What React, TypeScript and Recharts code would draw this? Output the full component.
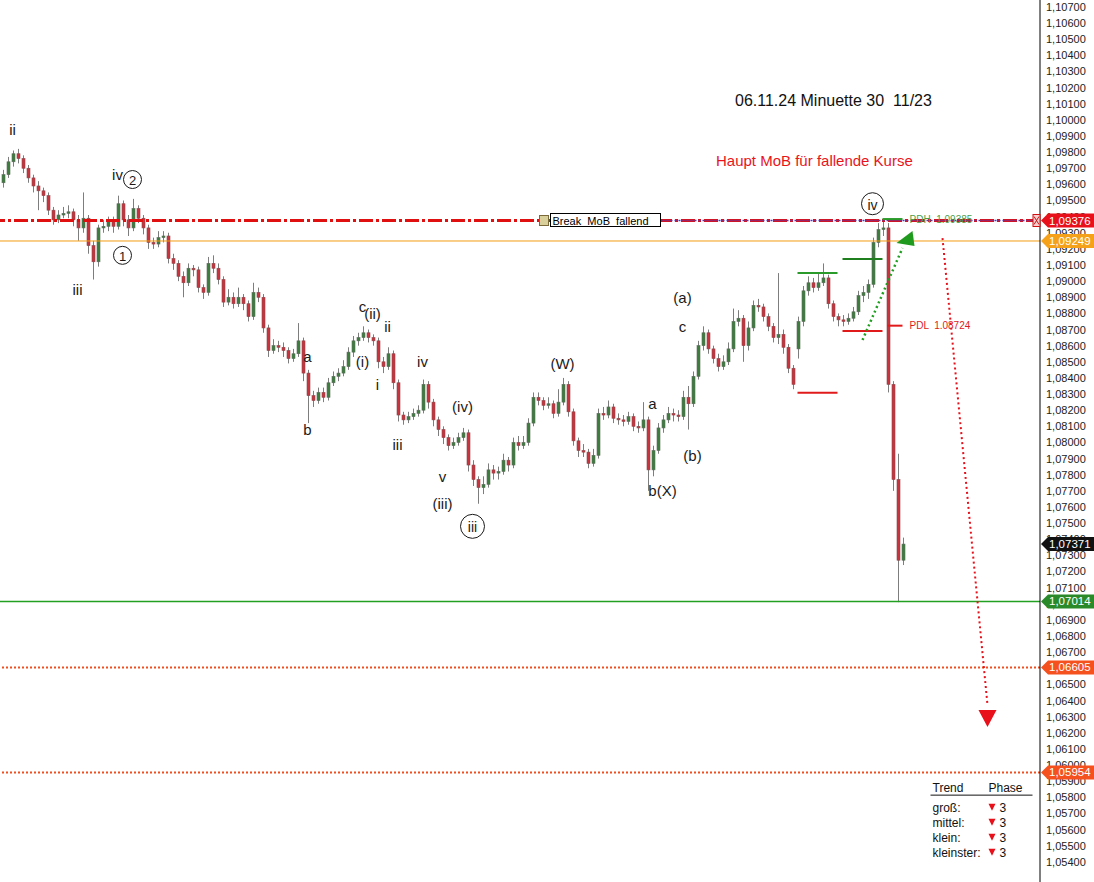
import { Bar, ComposedChart, ReferenceDot, ReferenceLine, XAxis, YAxis } from "recharts";

// EUR/USD 30 min candles
const opens = [
  1.0961, 1.0966, 1.0974, 1.0979, 1.0976, 1.0970, 1.0964, 1.0959, 1.0956, 1.0953,
  1.0944, 1.0938, 1.0941, 1.0942, 1.0943, 1.0938, 1.0933, 1.0939, 1.0922, 1.0912,
  1.0933, 1.0934, 1.0937, 1.0934, 1.0948, 1.0938, 1.0933, 1.0945, 1.0939, 1.0933,
  1.0924, 1.0923, 1.0927, 1.0928, 1.0914, 1.0911, 1.0903, 1.0899, 1.0908, 1.0907,
  1.0896, 1.0893, 1.0911, 1.0908, 1.0901, 1.0887, 1.0890, 1.0886, 1.0890, 1.0886,
  1.0878, 1.0893, 1.0890, 1.0871, 1.0857, 1.0860, 1.0859, 1.0857, 1.0852, 1.0855,
  1.0863, 1.0843, 1.0829, 1.0826, 1.0831, 1.0828, 1.0837, 1.0841, 1.0843, 1.0847,
  1.0856, 1.0863, 1.0865, 1.0868, 1.0865, 1.0863, 1.0850, 1.0847, 1.0855, 1.0837,
  1.0817, 1.0814, 1.0816, 1.0818, 1.0820, 1.0836, 1.0825, 1.0814, 1.0808, 1.0803,
  1.0798, 1.0800, 1.0803, 1.0806, 1.0786, 1.0777, 1.0772, 1.0774, 1.0783, 1.0781,
  1.0782, 1.0789, 1.0786, 1.0800, 1.0798, 1.0800, 1.0812, 1.0828, 1.0826, 1.0823,
  1.0824, 1.0818, 1.0825, 1.0836, 1.0819, 1.0801, 1.0795, 1.0794, 1.0787, 1.0792,
  1.0818, 1.0817, 1.0822, 1.0815, 1.0814, 1.0813, 1.0816, 1.0810, 1.0809, 1.0814,
  1.0783, 1.0795, 1.0809, 1.0814, 1.0818, 1.0817, 1.0816, 1.0828, 1.0824, 1.0841,
  1.0860, 1.0868, 1.0858, 1.0852, 1.0847, 1.0850, 1.0858, 1.0875, 1.0877, 1.0860,
  1.0871, 1.0885, 1.0884, 1.0878, 1.0872, 1.0865, 1.0867, 1.0859, 1.0846, 1.0858,
  1.0875, 1.0894, 1.0899, 1.0896, 1.0899, 1.0902, 1.0886, 1.0878, 1.0876, 1.0875,
  1.0877, 1.0881, 1.0891, 1.0893, 1.0898, 1.0924, 1.0932, 1.0933, 1.0836, 1.0777,
  1.0727,
];
const highs = [
  1.0969, 1.0977, 1.0981, 1.0982, 1.0978, 1.0972, 1.0966, 1.0962, 1.0958, 1.0955,
  1.0946, 1.0944, 1.0946, 1.0947, 1.0945, 1.0941, 1.0955, 1.0941, 1.0925, 1.0935,
  1.0938, 1.0940, 1.0940, 1.0953, 1.0950, 1.0941, 1.0951, 1.0947, 1.0941, 1.0935,
  1.0927, 1.0931, 1.0931, 1.0930, 1.0917, 1.0913, 1.0906, 1.0911, 1.0910, 1.0909,
  1.0898, 1.0915, 1.0916, 1.0911, 1.0903, 1.0895, 1.0893, 1.0896, 1.0892, 1.0888,
  1.0899, 1.0896, 1.0892, 1.0873, 1.0864, 1.0863, 1.0862, 1.0859, 1.0858, 1.0874,
  1.0865, 1.0845, 1.0832, 1.0834, 1.0834, 1.0840, 1.0844, 1.0846, 1.0851, 1.0859,
  1.0866, 1.0868, 1.0872, 1.0870, 1.0867, 1.0865, 1.0853, 1.0859, 1.0857, 1.0839,
  1.0819, 1.0819, 1.0821, 1.0823, 1.0839, 1.0838, 1.0827, 1.0816, 1.0810, 1.0805,
  1.0803, 1.0806, 1.0809, 1.0808, 1.0789, 1.0779, 1.0779, 1.0787, 1.0786, 1.0785,
  1.0793, 1.0791, 1.0803, 1.0804, 1.0804, 1.0815, 1.0831, 1.0831, 1.0828, 1.0828,
  1.0826, 1.0833, 1.0840, 1.0838, 1.0821, 1.0803, 1.0799, 1.0796, 1.0796, 1.0821,
  1.0822, 1.0826, 1.0824, 1.0818, 1.0817, 1.0819, 1.0818, 1.0813, 1.0825, 1.0816,
  1.0798, 1.0812, 1.0817, 1.0822, 1.0821, 1.0820, 1.0832, 1.0835, 1.0844, 1.0863,
  1.0872, 1.0870, 1.0860, 1.0855, 1.0854, 1.0862, 1.0883, 1.0882, 1.0879, 1.0875,
  1.0888, 1.0889, 1.0886, 1.0880, 1.0874, 1.0905, 1.0870, 1.0861, 1.0848, 1.0878,
  1.0897, 1.0903, 1.0902, 1.0905, 1.0911, 1.0904, 1.0888, 1.0880, 1.0879, 1.0880,
  1.0884, 1.0894, 1.0897, 1.0901, 1.0927, 1.0936, 1.0938, 1.0936, 1.0838, 1.0793,
  1.0741,
];
const lows = [
  1.0958, 1.0964, 1.0971, 1.0973, 1.0967, 1.0961, 1.0955, 1.0944, 1.0949, 1.0941,
  1.0935, 1.0936, 1.0939, 1.0939, 1.0934, 1.0925, 1.0930, 1.0917, 1.0901, 1.0909,
  1.0930, 1.0931, 1.0930, 1.0932, 1.0934, 1.0928, 1.0931, 1.0936, 1.0929, 1.0920,
  1.0920, 1.0921, 1.0924, 1.0911, 1.0907, 1.0900, 1.0890, 1.0897, 1.0903, 1.0893,
  1.0889, 1.0891, 1.0905, 1.0898, 1.0884, 1.0885, 1.0883, 1.0884, 1.0882, 1.0875,
  1.0876, 1.0887, 1.0868, 1.0853, 1.0855, 1.0856, 1.0853, 1.0849, 1.0850, 1.0853,
  1.0838, 1.0812, 1.0822, 1.0824, 1.0825, 1.0826, 1.0835, 1.0838, 1.0841, 1.0845,
  1.0853, 1.0860, 1.0863, 1.0862, 1.0860, 1.0846, 1.0843, 1.0845, 1.0833, 1.0813,
  1.0811, 1.0812, 1.0814, 1.0816, 1.0818, 1.0821, 1.0810, 1.0804, 1.0799, 1.0795,
  1.0796, 1.0798, 1.0801, 1.0782, 1.0773, 1.0762, 1.0768, 1.0772, 1.0777, 1.0777,
  1.0780, 1.0782, 1.0784, 1.0795, 1.0796, 1.0798, 1.0810, 1.0823, 1.0820, 1.0821,
  1.0815, 1.0816, 1.0823, 1.0816, 1.0798, 1.0791, 1.0791, 1.0784, 1.0785, 1.0790,
  1.0814, 1.0815, 1.0812, 1.0811, 1.0810, 1.0811, 1.0807, 1.0806, 1.0807, 1.0770,
  1.0779, 1.0793, 1.0806, 1.0812, 1.0813, 1.0813, 1.0814, 1.0808, 1.0822, 1.0839,
  1.0857, 1.0855, 1.0849, 1.0844, 1.0845, 1.0848, 1.0856, 1.0872, 1.0850, 1.0857,
  1.0869, 1.0881, 1.0875, 1.0869, 1.0862, 1.0861, 1.0855, 1.0843, 1.0833, 1.0852,
  1.0872, 1.0891, 1.0893, 1.0894, 1.0897, 1.0883, 1.0875, 1.0872, 1.0872, 1.0873,
  1.0875, 1.0879, 1.0887, 1.0889, 1.0896, 1.0921, 1.0928, 1.0831, 1.0770, 1.0701,
  1.0724,
];
const closes = [
  1.0966, 1.0974, 1.0979, 1.0976, 1.0970, 1.0964, 1.0959, 1.0956, 1.0953, 1.0944,
  1.0938, 1.0941, 1.0942, 1.0943, 1.0938, 1.0933, 1.0939, 1.0922, 1.0912, 1.0933,
  1.0934, 1.0937, 1.0934, 1.0948, 1.0938, 1.0933, 1.0945, 1.0939, 1.0933, 1.0924,
  1.0923, 1.0927, 1.0928, 1.0914, 1.0911, 1.0903, 1.0899, 1.0908, 1.0907, 1.0896,
  1.0893, 1.0911, 1.0908, 1.0901, 1.0887, 1.0890, 1.0886, 1.0890, 1.0886, 1.0878,
  1.0893, 1.0890, 1.0871, 1.0857, 1.0860, 1.0859, 1.0857, 1.0852, 1.0855, 1.0863,
  1.0843, 1.0829, 1.0826, 1.0831, 1.0828, 1.0837, 1.0841, 1.0843, 1.0847, 1.0856,
  1.0863, 1.0865, 1.0868, 1.0865, 1.0863, 1.0850, 1.0847, 1.0855, 1.0837, 1.0817,
  1.0814, 1.0816, 1.0818, 1.0820, 1.0836, 1.0825, 1.0814, 1.0808, 1.0803, 1.0798,
  1.0800, 1.0803, 1.0806, 1.0786, 1.0777, 1.0772, 1.0774, 1.0783, 1.0781, 1.0782,
  1.0789, 1.0786, 1.0800, 1.0798, 1.0800, 1.0812, 1.0828, 1.0826, 1.0823, 1.0824,
  1.0818, 1.0825, 1.0836, 1.0819, 1.0801, 1.0795, 1.0794, 1.0787, 1.0792, 1.0818,
  1.0817, 1.0822, 1.0815, 1.0814, 1.0813, 1.0816, 1.0810, 1.0809, 1.0814, 1.0783,
  1.0795, 1.0809, 1.0814, 1.0818, 1.0817, 1.0816, 1.0828, 1.0824, 1.0841, 1.0860,
  1.0868, 1.0858, 1.0852, 1.0847, 1.0850, 1.0858, 1.0875, 1.0877, 1.0860, 1.0871,
  1.0885, 1.0884, 1.0878, 1.0872, 1.0865, 1.0867, 1.0859, 1.0846, 1.0836, 1.0875,
  1.0894, 1.0899, 1.0896, 1.0899, 1.0902, 1.0886, 1.0878, 1.0876, 1.0875, 1.0877,
  1.0881, 1.0891, 1.0893, 1.0898, 1.0924, 1.0932, 1.0933, 1.0836, 1.0777, 1.0727,
  1.0737,
];

// empty slots to the right of the last candle
const SLOTS = 208;

const priceTicks = [
  1.054, 1.055, 1.056, 1.057, 1.058, 1.059, 1.06, 1.061, 1.062, 1.063,
  1.064, 1.065, 1.066, 1.067, 1.068, 1.069, 1.07, 1.071, 1.072, 1.073,
  1.074, 1.075, 1.076, 1.077, 1.078, 1.079, 1.08, 1.081, 1.082, 1.083,
  1.084, 1.085, 1.086, 1.087, 1.088, 1.089, 1.09, 1.091, 1.092, 1.093,
  1.094, 1.095, 1.096, 1.097, 1.098, 1.099, 1.1, 1.101, 1.102, 1.103,
  1.104, 1.105, 1.106, 1.107,
];

// price tags on the right scale
const tagValues = [1.09376, 1.09249, 1.07371, 1.07014, 1.06605, 1.05954];
const tagColors = ["#e8101a", "#f5a21a", "#111111", "#2a8a2a", "#f4511e", "#f4511e"];

const waveLabels = [
  { text: "ii", i: 2, p: 1.0994 },
  { text: "iii", i: 15, p: 1.0895 },
  { text: "iv", i: 23, p: 1.0966 },
  { text: "a", i: 61, p: 1.0853 },
  { text: "b", i: 61, p: 1.0808 },
  { text: "c", i: 72, p: 1.0884 },
  { text: "(ii)", i: 74, p: 1.088 },
  { text: "ii", i: 77, p: 1.0872 },
  { text: "(i)", i: 72, p: 1.085 },
  { text: "i", i: 75, p: 1.0836 },
  { text: "iv", i: 84, p: 1.085 },
  { text: "iii", i: 79, p: 1.0799 },
  { text: "(iv)", i: 92, p: 1.0822 },
  { text: "v", i: 88, p: 1.0779 },
  { text: "(iii)", i: 88, p: 1.0762 },
  { text: "(W)", i: 112, p: 1.0849 },
  { text: "a", i: 130, p: 1.0824 },
  { text: "b(X)", i: 132, p: 1.077 },
  { text: "(b)", i: 138, p: 1.0792 },
  { text: "c", i: 136, p: 1.0872 },
  { text: "(a)", i: 136, p: 1.089 },
];

const circledLabels = [
  { text: "2", i: 26, p: 1.0963, r: 9 },
  { text: "1", i: 24, p: 1.0916, r: 9 },
  { text: "iii", i: 94, p: 1.0748, r: 12 },
  { text: "iv", i: 174, p: 1.0948, r: 11 },
];

const trendRows = ["groß:", "mittel:", "klein:", "kleinster:"];
const trendPhases = [3, 3, 3, 3];

const FONT = "'Liberation Sans', Arial, sans-serif";

const data = Array.from({ length: SLOTS }, (_, i) =>
  i < closes.length ? { i, o: opens[i], h: highs[i], l: lows[i], c: closes[i] } : { i }
);

const fmt = (v: number) => v.toFixed(5).replace(".", ",");

const Candle = (props: any) => {
  const { x, y, width, height, payload } = props;
  if (!payload || payload.h === undefined) return null;
  const top = Math.min(y, y + height);
  const bottom = Math.max(y, y + height);
  const span = payload.h - payload.l || 1e-9;
  const toY = (p: number) => top + ((payload.h - p) / span) * (bottom - top);
  const cx = Math.round(x + width / 2) + 0.5;
  const up = payload.c >= payload.o;
  const yo = toY(payload.o);
  const yc = toY(payload.c);
  return (
    <g>
      <line x1={cx} x2={cx} y1={top} y2={bottom} stroke="#7d7d7d" strokeWidth={1} />
      <rect
        x={cx - 1.5}
        y={Math.min(yo, yc)}
        width={3}
        height={Math.max(1, Math.abs(yc - yo))}
        fill={up ? "#3e7c3e" : "#c8333d"}
        stroke={up ? "#5d6b5d" : "#8c4a4e"}
        strokeWidth={0.6}
      />
    </g>
  );
};

// tag values come last in the tick list, so they are painted over the plain price labels
const AxisTick = (props: any) => {
  const { x, y, payload } = props;
  const k = tagValues.indexOf(payload.value);
  if (k < 0) {
    return (
      <text x={x} y={y + 4} fontSize={11} fill="#222" fontFamily={FONT}>
        {fmt(payload.value)}
      </text>
    );
  }
  const X = x - 6;
  const Y = y;
  return (
    <g>
      {k === 0 && (
        <g>
          <rect x={X - 7} y={Y - 6} width={7} height={12} fill="#f6d0d0" stroke="#d01010" />
          <line x1={X - 6} y1={Y - 4} x2={X - 1} y2={Y + 4} stroke="#d01010" />
          <line x1={X - 1} y1={Y - 4} x2={X - 6} y2={Y + 4} stroke="#d01010" />
        </g>
      )}
      <polygon
        points={`${X + 1},${Y} ${X + 8},${Y - 7} ${X + 54},${Y - 7} ${X + 54},${Y + 7} ${X + 8},${Y + 7}`}
        fill={tagColors[k]}
      />
      <text x={X + 9} y={Y + 4} fill="#fff" fontSize={11.5} fontFamily={FONT}>
        {fmt(payload.value)}
      </text>
    </g>
  );
};

const WaveText = (text: string) => (props: any) => (
  <text
    x={props.cx}
    y={props.cy}
    textAnchor="middle"
    dominantBaseline="central"
    fontSize={15}
    fontFamily={FONT}
    fill="#1a1a1a"
  >
    {text}
  </text>
);

const CircledText = (text: string, r: number) => (props: any) => (
  <g>
    <circle cx={props.cx} cy={props.cy} r={r} fill="none" stroke="#1a1a1a" strokeWidth={1} />
    <text
      x={props.cx}
      y={props.cy + 1}
      textAnchor="middle"
      dominantBaseline="central"
      fontSize={r > 10 ? 14 : 13}
      fontFamily={FONT}
      fill="#1a1a1a"
    >
      {text}
    </text>
  </g>
);

const FreeText = (text: string, color: string, size: number, dx = 0) => (props: any) => (
  <text
    x={props.cx + dx}
    y={props.cy}
    dominantBaseline="central"
    fontSize={size}
    fontFamily={FONT}
    fill={color}
    style={{ whiteSpace: "pre" }}
  >
    {text}
  </text>
);

const BreakBox = (props: any) => {
  const { cx, cy } = props;
  return (
    <g>
      <rect x={cx - 3} y={cy - 5} width={9} height={10} fill="#d9cf9a" stroke="#7a6a3a" />
      <rect x={cx + 8} y={cy - 7} width={110} height={13} fill="#fff" stroke="#000" />
      <text x={cx + 10} y={cy} dominantBaseline="central" fontSize={11} fontFamily={FONT} fill="#000">
        Break_MoB_fallend_
      </text>
    </g>
  );
};

const GreenHead = (props: any) => {
  const { cx, cy } = props;
  return <polygon points={`${cx},${cy} ${cx - 16},${cy + 12} ${cx + 2},${cy + 15}`} fill="#1f9a1f" />;
};

const RedHead = (props: any) => {
  const { cx, cy } = props;
  return <polygon points={`${cx},${cy} ${cx - 9},${cy - 17} ${cx + 9},${cy - 17}`} fill="#e8101a" />;
};

const TrendTable = (props: any) => {
  const { cx, cy } = props;
  return (
    <g fontFamily={FONT} fontSize={12} fill="#111">
      <text x={cx} y={cy + 4}>Trend</text>
      <text x={cx + 56} y={cy + 4}>Phase</text>
      <line x1={cx - 2} x2={cx + 100} y1={cy + 7.5} y2={cy + 7.5} stroke="#111" />
      {trendRows.map((row, k) => (
        <g key={row}>
          <text x={cx} y={cy + 24 + k * 15}>{row}</text>
          <polygon
            points={`${cx + 56},${cy + 16 + k * 15} ${cx + 63},${cy + 16 + k * 15} ${cx + 59.5},${cy + 23 + k * 15}`}
            fill="#e8101a"
          />
          <text x={cx + 67} y={cy + 24 + k * 15}>{trendPhases[k]}</text>
        </g>
      ))}
    </g>
  );
};

const App = () => {
  return (
    <div style={{ position: "absolute", left: 0, top: 0, background: "#fff" }}>
      <ComposedChart width={1094} height={882} data={data} margin={{ top: 0, right: 0, bottom: 0, left: 0 }}>
        <XAxis dataKey="i" hide />
        <YAxis
          orientation="right"
          width={54}
          domain={[1.05275, 1.10743]}
          allowDataOverflow
          ticks={[...priceTicks, ...tagValues]}
          interval={0}
          tickLine={false}
          tickSize={3}
          tickMargin={3}
          axisLine={{ stroke: "#000" }}
          tick={AxisTick}
        />

        <ReferenceDot x={108} y={1.09376} r={0} shape={BreakBox} />

        <Bar dataKey={(d: any) => (d.h === undefined ? undefined : [d.l, d.h])} shape={Candle} isAnimationActive={false} />

        <ReferenceLine y={1.09249} stroke="#f39c12" strokeWidth={1} />
        <ReferenceLine y={1.09376} stroke="#e01010" strokeWidth={3} strokeDasharray="14 3 3 3" />
        <ReferenceLine
          segment={[{ x: 108, y: 1.09376 }, { x: 206, y: 1.09376 }]}
          stroke="#4a3cc8"
          strokeWidth={1.5}
          strokeDasharray="2 2"
        />
        <ReferenceLine y={1.07014} stroke="#22a022" strokeWidth={1.5} />
        <ReferenceLine y={1.06605} stroke="#f05020" strokeWidth={2} strokeDasharray="2 2" />
        <ReferenceLine y={1.05954} stroke="#f05020" strokeWidth={2} strokeDasharray="2 2" />

        {/* previous-day high / low markers */}
        <ReferenceLine segment={[{ x: 159, y: 1.0905 }, { x: 167, y: 1.0905 }]} stroke="#2a9a2a" strokeWidth={2} />
        <ReferenceLine segment={[{ x: 168, y: 1.09137 }, { x: 176, y: 1.09137 }]} stroke="#1f7f1f" strokeWidth={2} />
        <ReferenceLine segment={[{ x: 159, y: 1.08308 }, { x: 167, y: 1.08308 }]} stroke="#e01a1a" strokeWidth={2} />
        <ReferenceLine segment={[{ x: 168, y: 1.08691 }, { x: 176, y: 1.08691 }]} stroke="#e01a1a" strokeWidth={2} />
        <ReferenceLine segment={[{ x: 177, y: 1.08724 }, { x: 180, y: 1.08724 }]} stroke="#e01a1a" strokeWidth={2} />
        <ReferenceLine segment={[{ x: 176, y: 1.09385 }, { x: 180, y: 1.09385 }]} stroke="#2a9a2a" strokeWidth={2} />
        <ReferenceDot x={181} y={1.09385} r={0} shape={FreeText("PDH  1.09385", "#4aa04a", 10, 2)} />
        <ReferenceDot x={181} y={1.08724} r={0} shape={FreeText("PDL  1.08724", "#e01a1a", 10, 2)} />

        {/* projection arrows */}
        <ReferenceLine
          segment={[{ x: 172, y: 1.08635 }, { x: 180, y: 1.09206 }]}
          stroke="#20a020"
          strokeWidth={2.5}
          strokeDasharray="2 3"
        />
        <ReferenceDot x={182} y={1.09311} r={0} shape={GreenHead} />
        <ReferenceLine
          segment={[{ x: 188, y: 1.09267 }, { x: 197, y: 1.06372 }]}
          stroke="#e8101a"
          strokeWidth={2}
          strokeDasharray="2 3"
        />
        <ReferenceDot x={197} y={1.06236} r={0} shape={RedHead} />

        {waveLabels.map((w, k) => (
          <ReferenceDot key={`w${k}`} x={w.i} y={w.p} r={0} shape={WaveText(w.text)} />
        ))}
        {circledLabels.map((w, k) => (
          <ReferenceDot key={`c${k}`} x={w.i} y={w.p} r={0} shape={CircledText(w.text, w.r)} />
        ))}

        <ReferenceDot x={147} y={1.10117} r={0} shape={FreeText("06.11.24 Minuette 30  11/23", "#111", 16, -2.5)} />
        <ReferenceDot x={143} y={1.09745} r={0} shape={FreeText("Haupt MoB für fallende Kurse", "#e8141c", 15, -1.5)} />
        <ReferenceDot x={186} y={1.0586} r={0} shape={TrendTable} />
      </ComposedChart>
    </div>
  );
};

export default App;
